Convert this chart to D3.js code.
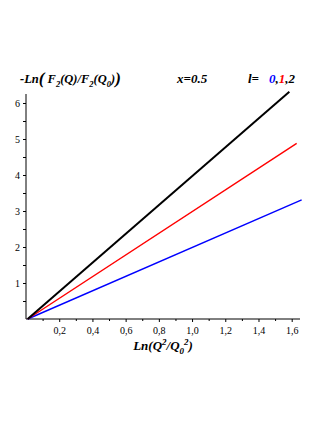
<!DOCTYPE html>
<html><head><meta charset="utf-8">
<script src="https://cdn.jsdelivr.net/npm/d3@7"></script>
<style>body{margin:0;background:#fff}svg{display:block}</style>
</head><body>
<script>
const seriesNames = ["l=0","l=1","l=2"];
const seriesColors = ["#0000ff","#ff0000","#000000"];
const seriesX = [[0.01, 1.66],[0.01, 1.63],[0.01, 1.586]];
const seriesY = [[0.0, 3.31],[0.0, 4.88],[0.0, 6.31]];
const xTicks = [0.2,0.4,0.6,0.8,1.0,1.2,1.4,1.6];
const yTicks = [1,2,3,4,5,6];

const W=327,H=423;
const svg=d3.select("body").append("svg").attr("width",W).attr("height",H);
const x=d3.scaleLinear().domain([0,1.65]).range([26,300]);
const y=d3.scaleLinear().domain([0,6.25]).range([319,94]);
const font="Liberation Serif, Times New Roman, serif";

// axes
const xa=svg.append("g").attr("transform","translate(0,319)")
  .call(d3.axisBottom(x).tickValues(d3.range(1,17).map(i=>i/10)).tickSize(2).tickFormat(""));
xa.selectAll(".tick line").attr("y2",(d,i)=>i%2==1?3:2);
xa.select(".domain").attr("d","M26,0H300");
svg.append("g").attr("transform","translate(0,319)")
  .call(d3.axisBottom(x).tickValues(xTicks).tickSize(0).tickPadding(8)
    .tickFormat(d=>d3.format(".1f")(d).replace(".",",")))
  .call(g=>g.select(".domain").remove())
  .selectAll("text").attr("font-family",font).attr("font-size",10).attr("fill","#000");

const ya=svg.append("g").attr("transform","translate(26,0)")
  .call(d3.axisLeft(y).tickValues(d3.range(1,13).map(i=>i/2)).tickSize(3).tickFormat(""));
ya.select(".domain").attr("d","M0,319V94");
svg.append("g").attr("transform","translate(26,0)")
  .call(d3.axisLeft(y).tickValues(yTicks).tickSize(0).tickPadding(6).tickFormat(d3.format("d")))
  .call(g=>g.select(".domain").remove())
  .selectAll("text").attr("font-family",font).attr("font-size",10).attr("fill","#000");
svg.selectAll(".domain, .tick line").attr("stroke","#000").attr("stroke-width",1);

// lines
const line=d3.line().x(d=>x(d[0])).y(d=>y(d[1]));
seriesNames.forEach((n,i)=>{
  const pts=seriesX[i].map((v,j)=>[v,seriesY[i][j]]);
  svg.append("path").attr("d",line(pts)).attr("fill","none")
    .attr("stroke",seriesColors[i]).attr("stroke-width",i==2?2:1.4);
});

// titles
const t=svg.append("text").attr("x",20).attr("y",83).attr("font-family",font)
  .attr("font-weight","bold").attr("font-style","italic").attr("font-size",12.5);
t.append("tspan").text("-Ln");
t.append("tspan").attr("font-size",17).attr("dy",1).text("(");
t.append("tspan").attr("dy",-1).text(" F");
t.append("tspan").attr("font-size",8.5).attr("dy",4).text("2");
t.append("tspan").attr("dy",-4).text("(Q)/F");
t.append("tspan").attr("font-size",8.5).attr("dy",4).text("2");
t.append("tspan").attr("dy",-4).text("(Q");
t.append("tspan").attr("font-size",8.5).attr("dy",4).text("0");
t.append("tspan").attr("dy",-4).text(")");
t.append("tspan").attr("font-size",17).attr("dy",1).text(")");

svg.append("text").attr("x",177).attr("y",83).attr("font-family",font)
  .attr("font-weight","bold").attr("font-style","italic").attr("font-size",13).text("x=0.5");
const l=svg.append("text").attr("x",248).attr("y",83).attr("font-family",font)
  .attr("font-weight","bold").attr("font-style","italic").attr("font-size",13);
l.append("tspan").text("l=");
l.append("tspan").attr("dx",10).attr("fill","#0000ff").text("0");
l.append("tspan").text(",");
l.append("tspan").attr("fill","#ff0000").text("1");
l.append("tspan").text(",2");

const xt=svg.append("text").attr("x",163).attr("y",350).attr("text-anchor","middle")
  .attr("font-family",font).attr("font-weight","bold").attr("font-style","italic").attr("font-size",13);
xt.append("tspan").text("Ln(Q");
xt.append("tspan").attr("font-size",9).attr("dy",-5).text("2");
xt.append("tspan").attr("dy",5).text("/Q");
xt.append("tspan").attr("font-size",9).attr("dy",4).text("0");
xt.append("tspan").attr("font-size",9).attr("dy",-9).text("2");
xt.append("tspan").attr("dy",5).text(")");
</script>
</body></html>
